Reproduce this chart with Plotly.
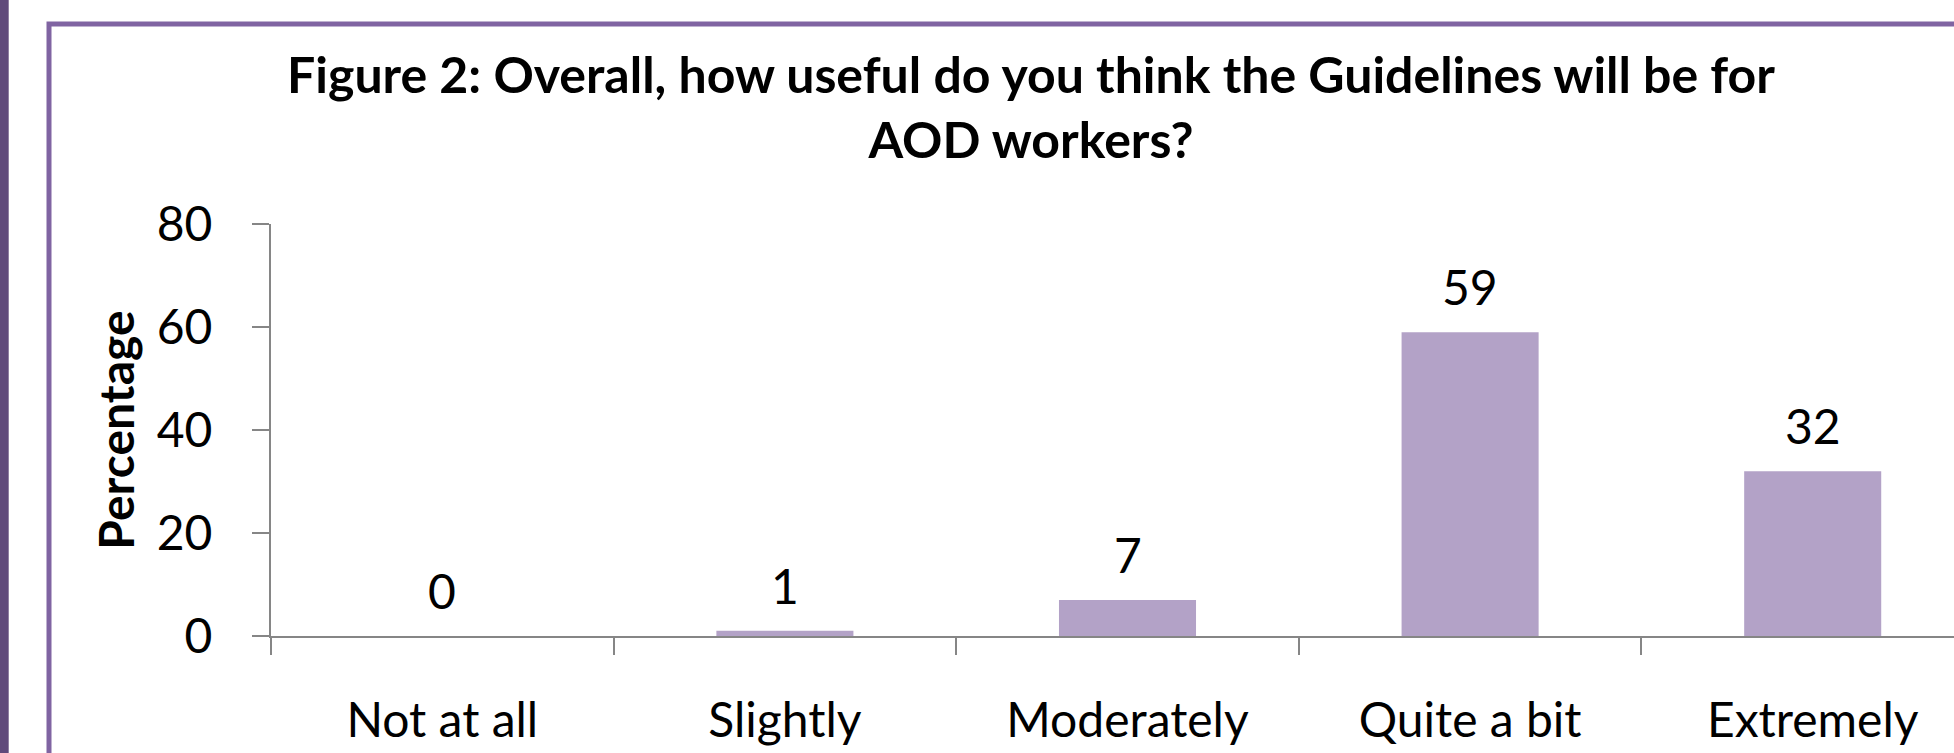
import plotly.graph_objects as go

categories = ["Not at all", "Slightly", "Moderately", "Quite a bit", "Extremely"]
values = [0, 1, 7, 59, 32]
y_ticks = [0, 20, 40, 60, 80]
title_text = "Figure 2: Overall, how useful do you think the Guidelines will be for<br>AOD workers?"
y_title = "Percentage"

W, H = 1954, 753
L, R, T, B = 271, 0, 224, 117
PW, PH = W - L - R, H - T - B

FONT = "Lato"
FS = 48
TFS = 50
BAR = "#B3A2C7"
AX = "#868686"

fig = go.Figure(
    go.Bar(
        x=categories,
        y=values,
        width=0.4,
        marker=dict(color=BAR, line=dict(width=0)),
        hoverinfo="x+y",
    )
)

for c, v in zip(categories, values):
    fig.add_annotation(
        x=c, y=v, xref="x", yref="y", text=str(v), showarrow=False,
        yanchor="bottom", yshift=15, font=dict(family=FONT, size=FS, color="#000000"),
    )

def px_x(p):
    return (p - L) / PW

def px_y(p):
    return (H - B - p) / PH

# outer frame decorations
fig.add_shape(type="rect", xref="paper", yref="paper",
              x0=px_x(0), x1=px_x(8.7), y0=px_y(H + 5), y1=px_y(-5),
              fillcolor="#604A7B", line=dict(width=0), layer="below")
fig.add_shape(type="rect", xref="paper", yref="paper",
              x0=px_x(49), x1=px_x(W + 40), y0=px_y(H + 40), y1=px_y(24),
              fillcolor="rgba(0,0,0,0)", line=dict(color="#8064A2", width=5), layer="below")

fig.update_layout(
    width=W, height=H,
    margin=dict(l=L, r=R, t=T, b=B, autoexpand=False),
    paper_bgcolor="#FFFFFF", plot_bgcolor="#FFFFFF",
    showlegend=False,
    title=dict(
        text=title_text, xref="container", x=1031 / W, xanchor="center",
        yref="container", y=1 - 93 / H, yanchor="top",
        font=dict(family=FONT, size=TFS, color="#000000", weight="bold"),
    ),
    font=dict(family=FONT, size=FS, color="#000000"),
    xaxis=dict(
        range=[-0.5, -0.5 + PW / 342.6],
        showline=True, linecolor=AX, linewidth=2,
        ticks="outside", ticklen=17, tickcolor=AX, tickwidth=2,
        tickson="boundaries", showgrid=False, zeroline=False,
        tickfont=dict(family=FONT, size=FS, color="#000000"),
        ticklabelstandoff=41,
        fixedrange=True,
    ),
    yaxis=dict(
        range=[0, 80], tickvals=y_ticks,
        showline=True, linecolor=AX, linewidth=2,
        ticks="outside", ticklen=17, tickcolor=AX, tickwidth=2,
        showgrid=False, zeroline=False,
        tickfont=dict(family=FONT, size=FS, color="#000000"),
        ticklabelstandoff=30,
        title=dict(text=y_title, standoff=7,
                   font=dict(family=FONT, size=FS, color="#000000", weight="bold")),
        fixedrange=True,
    ),
)

fig.write_html("out.html", config={"displayModeBar": False},
               post_script="document.body.style.margin='0';")
